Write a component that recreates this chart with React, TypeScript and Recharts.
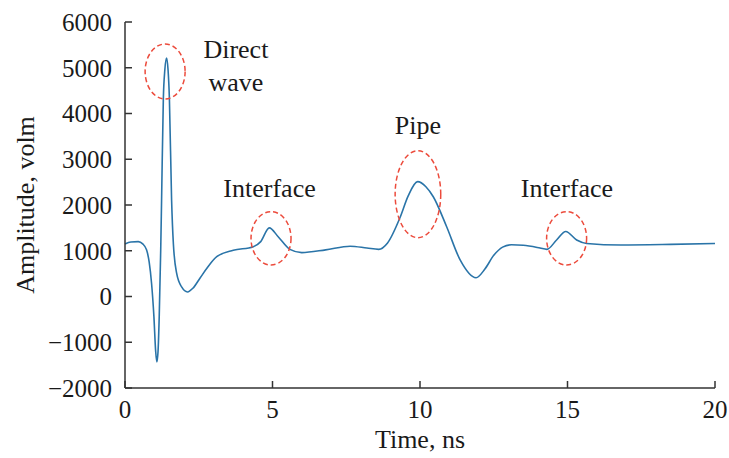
import React from "react";
import {
  LineChart,
  Line,
  XAxis,
  YAxis,
  ReferenceDot,
} from "recharts";

// time (ns) and amplitude (volm)
const TIME = [
  0, 0.2, 0.45, 0.6, 0.73, 0.82, 0.9, 0.98, 1.04, 1.08, 1.12, 1.16, 1.21, 1.24,
  1.3, 1.35, 1.41, 1.46, 1.505, 1.58, 1.64, 1.75, 1.92, 2.12, 2.3, 2.54, 2.8,
  3.11, 3.67, 4.35, 4.6, 4.89, 5.2, 5.59, 5.99, 6.8, 7.63, 8.2, 8.6, 8.9, 9.32,
  9.6, 9.92, 10.2, 10.45, 10.9, 11.36, 11.9, 12.2, 12.5, 12.8, 13.1, 13.5,
  14.07, 14.3, 14.63, 14.94, 15.31, 15.65, 16.8, 18.5, 20,
];
const AMPLITUDE = [
  1150, 1190, 1200, 1150, 1020, 750, 290, -440, -1200, -1430, -1200, -440, 1000,
  2100, 4330, 4950, 5210, 4950, 4330, 2100, 1150, 510, 210, 100, 180, 400, 640,
  870, 1010, 1090, 1200, 1500, 1300, 1030, 960, 1020, 1100, 1060, 1030, 1170,
  1720, 2200, 2510, 2400, 2180, 1530, 800, 410, 600, 900, 1080, 1130, 1120,
  1060, 1030, 1235, 1420, 1235, 1160, 1126, 1140, 1160,
];

const X_TICKS = [0, 5, 10, 15, 20];
const Y_TICKS = [-2000, -1000, 0, 1000, 2000, 3000, 4000, 5000, 6000];

// highlighted regions: centre in data units, radii in px
const MARKS = [
  { t: 1.36, a: 4918, rx: 20, ry: 27.5 },
  { t: 4.95, a: 1272, rx: 20, ry: 26.7 },
  { t: 9.93, a: 2236, rx: 22.8, ry: 43.5 },
  { t: 14.97, a: 1272, rx: 20, ry: 26.7 },
];

const NOTES = [
  { t: 3.76, a: 5206, lines: ["Direct", "wave"] },
  { t: 4.9, a: 2181, lines: ["Interface"] },
  { t: 9.93, a: 3552, lines: ["Pipe"] },
  { t: 14.98, a: 2181, lines: ["Interface"] },
];

const data = TIME.map((t, i) => ({ t, a: AMPLITUDE[i] }));

const FONT = "'Liberation Serif', 'Times New Roman', serif";
const INK = "#1a1a1a";
const AXIS = "#333";

const txt = { fontFamily: FONT };

const fmt = (v: number) => (v < 0 ? "\u2212" + Math.abs(v) : String(v));

const YTick = ({ x, y, payload }: any) => (
  <g>
    <line x1={x} x2={x + 7} y1={y} y2={y} stroke={AXIS} strokeWidth={1.5} />
    <text
      x={x - 13}
      y={y}
      dy="0.35em"
      textAnchor="end"
      style={txt}
      fontSize={25}
      fill={INK}
    >
      {fmt(payload.value)}
    </text>
  </g>
);

const XTick = ({ x, y, payload }: any) => (
  <g>
    <line x1={x} x2={x} y1={y} y2={y - 7} stroke={AXIS} strokeWidth={1.5} />
    <text
      x={x}
      y={y + 30}
      textAnchor="middle"
      style={txt}
      fontSize={25}
      fill={INK}
    >
      {payload.value}
    </text>
  </g>
);

export default function App() {
  return (
    <div style={{ width: 729, height: 458, background: "#fff", fontFamily: FONT }}>
      <style>{`body{margin:0}`}</style>
      <LineChart
        width={729}
        height={458}
        data={data}
        margin={{ top: 22, right: 14, bottom: 0, left: 0 }}
      >
        <XAxis
          dataKey="t"
          type="number"
          domain={[0, 20]}
          ticks={X_TICKS}
          tickSize={0}
          tickMargin={0}
          tickLine={false}
          tick={<XTick />}
          height={70}
          stroke={AXIS}
          strokeWidth={1.5}
          label={{
            content: ({ viewBox }: any) => (
              <text
                x={viewBox.x + viewBox.width / 2}
                y={viewBox.y + viewBox.height - 10}
                textAnchor="middle"
                style={txt}
                fontSize={26}
                fill={INK}
              >
                Time, ns
              </text>
            ),
          }}
        />
        <YAxis
          type="number"
          domain={[-2000, 6000]}
          ticks={Y_TICKS}
          tickSize={0}
          tickMargin={0}
          tickLine={false}
          tick={<YTick />}
          width={125}
          stroke={AXIS}
          strokeWidth={1.5}
          label={{
            content: ({ viewBox }: any) => (
              <text
                transform={`translate(${viewBox.x + 34},${
                  viewBox.y + viewBox.height / 2
                }) rotate(-90)`}
                textAnchor="middle"
                style={txt}
                fontSize={26}
                fill={INK}
              >
                Amplitude, volm
              </text>
            ),
          }}
        />
        <Line
          type="monotone"
          dataKey="a"
          stroke="#2a74a8"
          strokeWidth={1.6}
          dot={false}
          isAnimationActive={false}
        />
        {MARKS.map((m, i) => (
          <ReferenceDot
            key={"m" + i}
            x={m.t}
            y={m.a}
            shape={(p: any) => (
              <ellipse
                cx={p.cx}
                cy={p.cy}
                rx={m.rx}
                ry={m.ry}
                fill="none"
                stroke="#ec4b3c"
                strokeWidth={1.5}
                strokeDasharray="5 3"
              />
            )}
          />
        ))}
        {NOTES.map((n, i) => (
          <ReferenceDot
            key={"n" + i}
            x={n.t}
            y={n.a}
            shape={(p: any) => (
              <text
                x={p.cx}
                y={p.cy}
                textAnchor="middle"
                style={txt}
                fontSize={26}
                fill={INK}
              >
                {n.lines.map((s, j) => (
                  <tspan key={j} x={p.cx} dy={j === 0 ? 0 : 33}>
                    {s}
                  </tspan>
                ))}
              </text>
            )}
          />
        ))}
      </LineChart>
    </div>
  );
}
